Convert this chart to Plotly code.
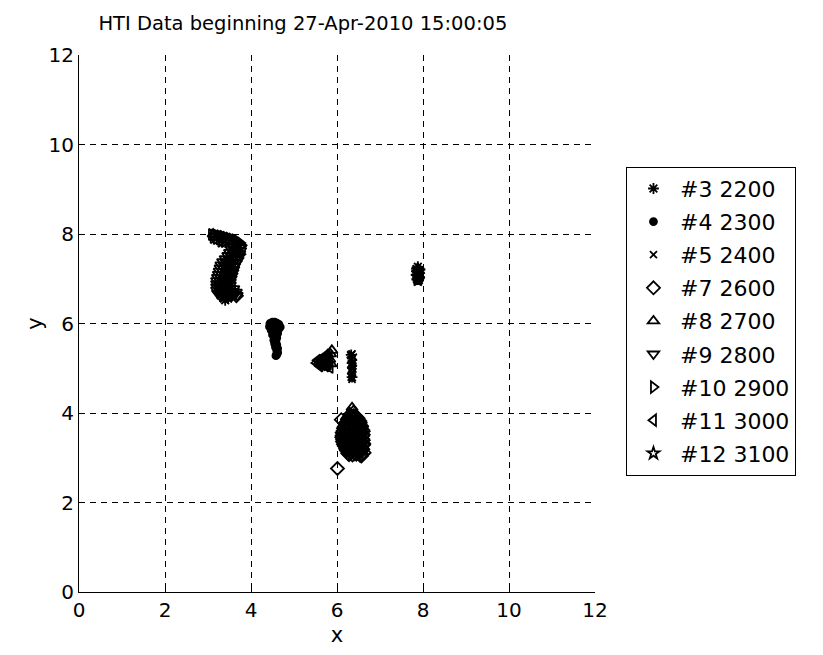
import plotly.graph_objects as go

# Track positions per target (x, y in metres)
x3 = [7.88, 7.85, 7.92, 7.86, 3.40, 3.46, 6.35, 6.33]
y3 = [7.27, 7.22, 7.02, 6.98, 6.52, 6.57, 4.80, 5.30]

x4 = [4.44, 4.50, 4.55, 4.60, 4.65, 4.68, 4.43, 4.49, 4.55, 4.60, 4.64, 4.47, 4.52, 4.58,
      4.62, 4.50, 4.55, 4.60, 4.53, 4.58, 4.55, 4.60, 4.57, 4.62, 4.60, 4.62, 4.60, 4.58]
y4 = [6.00, 6.03, 6.03, 6.01, 5.98, 5.92, 5.93, 5.94, 5.96, 5.93, 5.87, 5.85, 5.84, 5.82,
      5.78, 5.75, 5.72, 5.68, 5.63, 5.60, 5.55, 5.52, 5.47, 5.44, 5.39, 5.35, 5.31, 5.28]

x5 = [6.35, 6.32, 6.38, 6.34, 6.36, 6.33, 6.37, 6.35, 6.32, 6.36, 6.34, 6.33, 6.35, 6.38, 6.31,
      6.37, 6.33]
y5 = [5.32, 5.28, 5.25, 5.20, 5.15, 5.10, 5.05, 5.00, 4.95, 4.90, 4.85, 4.80, 4.75, 5.12, 5.18,
      4.98, 5.06]

x7 = [6.30, 6.38, 6.44, 6.27, 6.35, 6.42, 6.49,
      6.24, 6.31, 6.39, 6.47, 6.53, 6.22, 6.30, 6.38, 6.46, 6.54,
      6.19, 6.27, 6.35, 6.43, 6.50, 6.57, 6.17, 6.25, 6.33, 6.41, 6.49, 6.57,
      6.15, 6.23, 6.31, 6.38, 6.46, 6.54, 6.60, 6.14, 6.22, 6.30, 6.38, 6.46, 6.54, 6.61,
      6.12, 6.20, 6.28, 6.36, 6.44, 6.52, 6.61, 6.12, 6.20, 6.28, 6.36, 6.44, 6.52, 6.60,
      6.11, 6.19, 6.27, 6.35, 6.43, 6.51, 6.60, 6.13, 6.21, 6.29, 6.37, 6.45, 6.53, 6.61,
      6.13, 6.21, 6.29, 6.37, 6.45, 6.53, 6.62, 6.15, 6.23, 6.31, 6.39, 6.47, 6.55, 6.62,
      6.17, 6.25, 6.33, 6.41, 6.49, 6.58, 6.20, 6.28, 6.36, 6.44, 6.52, 6.60,
      6.22, 6.30, 6.38, 6.46, 6.55, 6.63, 6.25, 6.33, 6.41, 6.50, 6.58,
      6.28, 6.36, 6.45, 6.54,
      6.01, 3.72, 3.66, 3.58, 6.10, 6.57]
y7 = [3.96, 3.94, 3.92, 3.90, 3.91, 3.89, 3.88,
      3.86, 3.85, 3.87, 3.84, 3.82, 3.80, 3.81, 3.79, 3.80, 3.78,
      3.76, 3.74, 3.77, 3.75, 3.73, 3.71, 3.70, 3.71, 3.69, 3.70, 3.68, 3.69,
      3.66, 3.64, 3.67, 3.65, 3.63, 3.66, 3.62, 3.60, 3.61, 3.59, 3.60, 3.58, 3.61, 3.59,
      3.56, 3.54, 3.57, 3.55, 3.53, 3.56, 3.52, 3.50, 3.51, 3.49, 3.50, 3.48, 3.51, 3.49,
      3.46, 3.44, 3.47, 3.45, 3.43, 3.46, 3.42, 3.40, 3.41, 3.39, 3.40, 3.38, 3.41, 3.39,
      3.36, 3.34, 3.37, 3.35, 3.33, 3.36, 3.32, 3.30, 3.31, 3.29, 3.30, 3.28, 3.31, 3.29,
      3.26, 3.24, 3.27, 3.25, 3.23, 3.21, 3.20, 3.21, 3.19, 3.20, 3.18, 3.19,
      3.16, 3.14, 3.17, 3.15, 3.13, 3.11, 3.10, 3.11, 3.09, 3.10, 3.08,
      3.07, 3.06, 3.08, 3.05,
      2.76, 7.55, 6.62, 6.70, 3.85, 3.04]

x8 = [6.35, 6.38, 6.30, 5.85, 5.83, 5.86, 5.78, 5.88, 3.12]
y8 = [4.12, 4.05, 4.00, 5.32, 5.20, 5.10, 5.30, 5.40, 8.00]

x9 = [3.58, 3.66, 3.74,
      3.54, 3.62, 3.70, 3.76,
      3.50, 3.58, 3.66, 3.74,
      3.46, 3.54, 3.62, 3.70,
      3.40, 3.48, 3.56, 3.64, 3.70,
      3.34, 3.42, 3.50, 3.58, 3.66,
      3.30, 3.38, 3.46, 3.54, 3.62,
      3.28, 3.36, 3.44, 3.52, 3.60,
      3.26, 3.34, 3.42, 3.50, 3.58,
      3.24, 3.32, 3.40, 3.48, 3.56,
      3.22, 3.30, 3.38, 3.46, 3.54,
      3.20, 3.28, 3.36, 3.44, 3.52,
      3.20, 3.28, 3.36, 3.44, 3.52,
      3.20, 3.28, 3.36, 3.44, 3.52, 3.60,
      3.20, 3.28, 3.36, 3.44, 3.52, 3.60, 3.66,
      3.22, 3.30, 3.38, 3.46, 3.54, 3.62, 3.68,
      3.30, 3.38, 3.46, 3.54]
y9 = [7.73, 7.72, 7.70,
      7.66, 7.65, 7.64, 7.63,
      7.59, 7.58, 7.57, 7.56,
      7.52, 7.51, 7.50, 7.49,
      7.45, 7.44, 7.44, 7.43, 7.42,
      7.38, 7.37, 7.37, 7.36, 7.35,
      7.31, 7.30, 7.30, 7.29, 7.28,
      7.24, 7.23, 7.23, 7.22, 7.21,
      7.17, 7.16, 7.16, 7.15, 7.14,
      7.10, 7.09, 7.09, 7.08, 7.07,
      7.03, 7.02, 7.02, 7.01, 7.00,
      6.96, 6.95, 6.95, 6.94, 6.93,
      6.89, 6.88, 6.88, 6.87, 6.86,
      6.82, 6.81, 6.81, 6.80, 6.79, 6.78,
      6.75, 6.74, 6.74, 6.73, 6.72, 6.71, 6.70,
      6.68, 6.67, 6.67, 6.66, 6.65, 6.64, 6.63,
      6.60, 6.59, 6.58, 6.60]

x10 = [3.08, 3.14, 3.20, 3.27, 3.34, 3.41, 3.48, 3.55, 3.62, 3.69, 3.75,
       3.12, 3.19, 3.26, 3.33, 3.40, 3.47, 3.54, 3.61, 3.68, 3.76,
       3.30, 3.38, 3.46, 3.54, 3.62, 3.70, 3.78]
y10 = [7.99, 7.98, 7.97, 7.96, 7.95, 7.93, 7.91, 7.89, 7.87, 7.84, 7.80,
       7.92, 7.90, 7.89, 7.87, 7.85, 7.83, 7.81, 7.79, 7.76, 7.72,
       7.84, 7.83, 7.82, 7.81, 7.80, 7.78, 7.75]

x11 = [5.52, 5.58, 5.62, 5.66, 5.70, 5.74, 5.78, 5.80, 5.82, 5.84, 5.60, 5.68,
       5.75, 5.55, 5.65, 5.72, 5.80, 5.63, 5.70, 5.77]
y11 = [5.12, 5.10, 5.15, 5.08, 5.18, 5.05, 5.20, 5.10, 5.25, 5.02, 5.05, 5.22,
       5.28, 5.18, 5.12, 5.12, 5.15, 5.20, 5.26, 5.06]

x12 = [7.88, 7.90, 7.86, 7.90, 7.87, 7.91, 7.88, 3.36, 3.30]
y12 = [6.96, 7.00, 7.05, 7.09, 7.13, 7.17, 7.21, 6.60, 6.66]

names = ["#3 2200", "#4 2300", "#5 2400", "#7 2600", "#8 2700",
         "#9 2800", "#10 2900", "#11 3000", "#12 3100"]
xs = [x3, x4, x5, x7, x8, x9, x10, x11, x12]
ys = [y3, y4, y5, y7, y8, y9, y10, y11, y12]
symbols = ["asterisk-open", "circle", "x-thin-open", "diamond-open",
           "triangle-up-open", "triangle-down-open", "triangle-right-open",
           "triangle-left-open", "star-open"]
sizes = [9, 7, 7, 10, 10, 10, 10, 10, 9]

FONT = "DejaVu Sans, Liberation Sans, sans-serif"

fig = go.Figure()
for nm, xv, yv, sym, sz in zip(names, xs, ys, symbols, sizes):
    fig.add_trace(go.Scatter(
        x=xv, y=yv, mode="markers", name=nm, legendgroup=nm,
        marker=dict(symbol=sym, size=sz, color="black",
                    line=dict(color="black", width=1.8)),
    ))

axis_common = dict(
    range=[0, 12], tickvals=[0, 2, 4, 6, 8, 10, 12],
    showgrid=True, gridcolor="black", gridwidth=1, griddash="6px,5px",
    showline=True, linecolor="black", linewidth=1.2,
    ticks="inside", ticklen=5, tickcolor="black",
    tickfont=dict(family=FONT, size=20, color="black"),
    zeroline=False, mirror=False,
)

fig.update_layout(
    width=823, height=655,
    margin=dict(l=79, r=228, t=55, b=63),
    plot_bgcolor="white", paper_bgcolor="white",
    title=dict(text="HTI Data beginning 27-Apr-2010 15:00:05",
               font=dict(family=FONT, size=19.5, color="black"),
               x=0.368, xanchor="center", y=0.964, yanchor="middle"),
    xaxis=dict(title=dict(text="x", font=dict(family=FONT, size=21, color="black"),
                          standoff=6), **axis_common),
    yaxis=dict(title=dict(text="y", font=dict(family=FONT, size=21, color="black"),
                          standoff=0), **axis_common),
    legend=dict(x=1.060, xanchor="left", y=0.792, yanchor="top",
                bordercolor="black", borderwidth=1, bgcolor="white",
                font=dict(family=FONT, size=22, color="black"),
                tracegroupgap=1.5, itemwidth=43,
                entrywidth=140, entrywidthmode="pixels"),
    showlegend=True,
)

fig.write_html("out.html")
